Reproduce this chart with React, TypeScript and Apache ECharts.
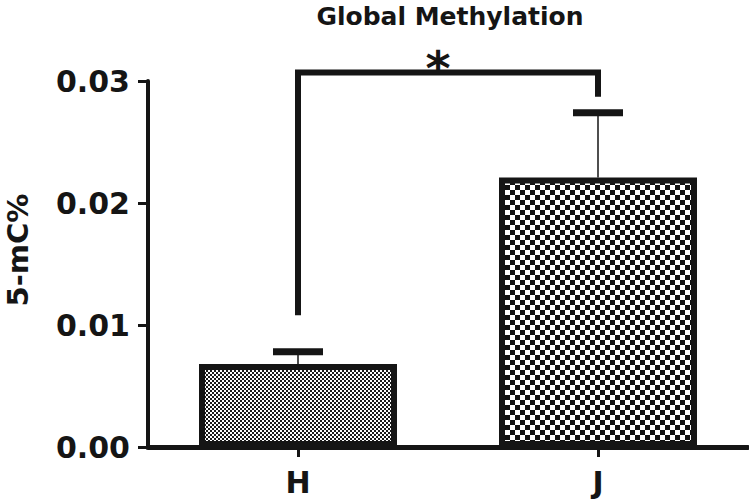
import React, { useEffect, useRef } from "react";
import * as echarts from "echarts";

// ---- data ----
const categories = ["H", "J"];
const means = [0.0068, 0.0221];
const sem = [0.001, 0.0053];
const yTicks = [0, 0.01, 0.02, 0.03];
const bracketTop = 0.0307;
const bracketLeftEnd = 0.0108;
const bracketRightEnd = 0.0287;
const sigLabel = "*";
const titleText = "Global Methylation";
const yName = "5-mC%";

const INK = "#151515";
const FONT = "'DejaVu Sans', sans-serif";

function makeChecker(cell: number, fg: string, bg: string) {
  const c = document.createElement("canvas");
  c.width = cell * 2;
  c.height = cell * 2;
  const ctx = c.getContext("2d")!;
  ctx.fillStyle = bg;
  ctx.fillRect(0, 0, cell * 2, cell * 2);
  ctx.fillStyle = fg;
  ctx.fillRect(0, 0, cell, cell);
  ctx.fillRect(cell, cell, cell, cell);
  return c;
}

export default function App() {
  const ref = useRef<HTMLDivElement>(null);

  useEffect(() => {
    if (!ref.current) return;
    const chart = echarts.init(ref.current, null, { renderer: "svg" });
    const fineCanvas = makeChecker(2, "#1a1a1a", "#ffffff");
    const coarseCanvas = makeChecker(5, "#111111", "#ffffff");
    const patterns = [
      { image: fineCanvas, repeat: "repeat", imageWidth: 4, imageHeight: 4 },
      { image: coarseCanvas, repeat: "repeat", imageWidth: 10, imageHeight: 10 },
    ];

    const option: any = {
      animation: false,
      backgroundColor: "#ffffff",
      grid: {
        left: 148,
        right: 1,
        top: 81,
        bottom: 53,
        containLabel: false,
        outerBoundsMode: "none",
      },
      xAxis: {
        type: "category",
        data: categories,
        axisLine: { show: true, lineStyle: { color: INK, width: 5 } },
        axisTick: {
          show: true,
          alignWithLabel: true,
          length: 10,
          lineStyle: { color: INK, width: 3 },
        },
        axisLabel: {
          color: INK,
          fontFamily: FONT,
          fontWeight: "bold",
          fontSize: 30,
          margin: 20,
        },
        splitLine: { show: false },
      },
      yAxis: {
        type: "value",
        min: yTicks[0],
        max: yTicks[yTicks.length - 1],
        interval: 0.01,
        axisLine: { show: true, lineStyle: { color: INK, width: 4 } },
        axisTick: { show: true, length: 10, lineStyle: { color: INK, width: 3 } },
        axisLabel: {
          color: INK,
          fontFamily: FONT,
          fontWeight: "bold",
          fontSize: 30,
          margin: 18,
          formatter: (v: number) => v.toFixed(2),
        },
        splitLine: { show: false },
      },
      graphic: [
        {
          type: "text",
          x: 450,
          y: 16,
          style: {
            text: titleText,
            fill: INK,
            font: `bold 25px ${FONT}`,
            textAlign: "center",
            textVerticalAlign: "middle",
          },
        },
        {
          type: "text",
          x: 18,
          y: 250,
          rotation: Math.PI / 2,
          style: {
            text: yName,
            fill: INK,
            font: `bold 29px ${FONT}`,
            textAlign: "center",
            textVerticalAlign: "middle",
          },
        },
      ],
      series: [
        {
          type: "bar",
          barWidth: 198,
          data: means.map((v, i) => ({
            value: v,
            itemStyle: {
              color: patterns[i],
              borderColor: INK,
              borderWidth: 6,
            },
          })),
          z: 2,
        },
        {
          type: "custom",
          z: 3,
          data: means.map((m, i) => [i, m, m + sem[i]]),
          renderItem: (params: any, api: any) => {
            const x = api.value(0);
            const lo = api.coord([x, api.value(1)]);
            const hi = api.coord([x, api.value(2)]);
            return {
              type: "group",
              children: [
                {
                  type: "line",
                  shape: { x1: lo[0], y1: lo[1], x2: hi[0], y2: hi[1] },
                  style: { stroke: INK, lineWidth: 1.5 },
                },
                {
                  type: "rect",
                  shape: { x: hi[0] - 25, y: hi[1] - 3.5, width: 50, height: 7 },
                  style: { fill: INK },
                },
              ],
            };
          },
        },
        {
          type: "custom",
          z: 4,
          clip: false,
          data: [[0, 1, bracketLeftEnd, bracketTop, bracketRightEnd]],
          renderItem: (params: any, api: any) => {
            const a = api.coord([api.value(0), api.value(2)]);
            const b = api.coord([api.value(0), api.value(3)]);
            const c = api.coord([api.value(1), api.value(3)]);
            const d = api.coord([api.value(1), api.value(4)]);
            return {
              type: "group",
              children: [
                {
                  type: "polyline",
                  shape: { points: [a, b, c, d] },
                  style: { stroke: INK, lineWidth: 6, fill: null, lineJoin: "miter" },
                },
                {
                  type: "text",
                  x: (b[0] + c[0]) / 2 - 10,
                  y: b[1] - 4,
                  style: {
                    text: sigLabel,
                    fill: INK,
                    font: `bold 48px ${FONT}`,
                    textAlign: "center",
                    textVerticalAlign: "middle",
                  },
                },
              ],
            };
          },
        },
      ],
    };

    chart.setOption(option);
    return () => chart.dispose();
  }, []);

  return (
    <div
      ref={ref}
      style={{ position: "fixed", left: 0, top: 0, width: 749, height: 500 }}
    />
  );
}
